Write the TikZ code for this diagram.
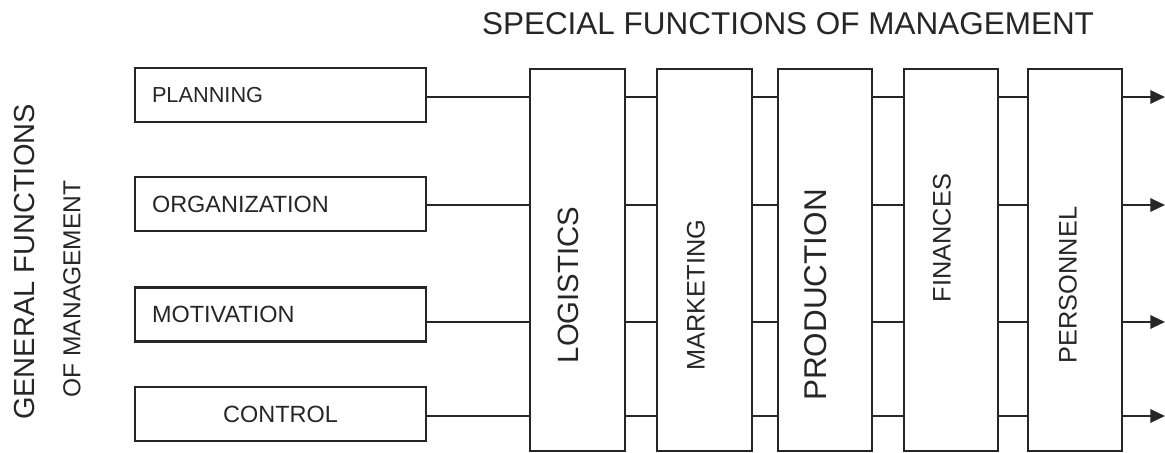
\documentclass[tikz,border=0pt]{standalone}
\usepackage{fontspec}
\setmainfont{Liberation Sans}
\usetikzlibrary{arrows.meta}
\definecolor{DiagInk}{HTML}{262626}

\begin{document}
\begin{tikzpicture}[x=0.75pt, y=-0.75pt,
    gbox/.style={draw=DiagInk, line width=1.6pt, minimum width=218.25pt, minimum height=40.5pt, inner xsep=12.75pt, text width=192.75pt, align=left, text=DiagInk, font=\fontsize{17.6}{18}\selectfont},
    sbox/.style={draw=DiagInk, line width=1.6pt, minimum width=71pt, minimum height=286.5pt, inner sep=0pt},
    vtext/.style={rotate=90, inner sep=0pt, text=DiagInk},
    conn/.style={draw=DiagInk, line width=1.6pt},
    outarrow/.style={conn, -{Triangle[length=11pt, width=10pt]}}
]
\useasboundingbox (0,0) rectangle (1165,453);

% Titles
\node[anchor=base, inner sep=0pt, text=DiagInk, font=\fontsize{23.6}{24}\selectfont] (title) at (788,35) {SPECIAL FUNCTIONS OF MANAGEMENT};
\node[vtext, font=\fontsize{21.75}{22}\selectfont] (gen) at (25,262) {GENERAL FUNCTIONS};
\node[vtext, font=\fontsize{18.4}{19}\selectfont] (ofm) at (72,289) {OF MANAGEMENT};

% General functions (left column)
\node[gbox, font=\fontsize{16.3}{17}\selectfont] (plan) at (280.5,95) {PLANNING};
\node[gbox] (org) at (280.5,204) {ORGANIZATION};
\node[gbox] (mot) at (280.5,314.5) {MOTIVATION};
\node[gbox, align=center] (ctrl) at (280.5,414) {CONTROL};

% Special functions (vertical boxes)
\node[sbox] (log) at (577.5,260) {};
\node[sbox] (mkt) at (704.5,260) {};
\node[sbox] (prod) at (825,260) {};
\node[sbox] (fin) at (951,260) {};
\node[sbox] (pers) at (1075,260) {};

\node[vtext, font=\fontsize{22}{22}\selectfont] (logt) at (568,285) {LOGISTICS};
\node[vtext, font=\fontsize{19}{19}\selectfont] (mktt) at (696,295) {MARKETING};
\node[vtext, font=\fontsize{23.6}{24}\selectfont] (prodt) at (816,295) {PRODUCTION};
\node[vtext, font=\fontsize{19}{19}\selectfont] (fint) at (942,238) {FINANCES};
\node[vtext, font=\fontsize{19}{19}\selectfont] (perst) at (1068,285) {PERSONNEL};

% Rows of connectors
\coordinate (r1) at (1165,97);
\coordinate (r2) at (1165,205);
\coordinate (r3) at (1165,322);
\coordinate (r4) at (1165,416);

\draw[conn] (plan.east |- r1) -- (log.west |- r1) (log.east |- r1) -- (mkt.west |- r1)
    (mkt.east |- r1) -- (prod.west |- r1) (prod.east |- r1) -- (fin.west |- r1) (fin.east |- r1) -- (pers.west |- r1);
\draw[conn] (org.east |- r2) -- (log.west |- r2) (log.east |- r2) -- (mkt.west |- r2)
    (mkt.east |- r2) -- (prod.west |- r2) (prod.east |- r2) -- (fin.west |- r2) (fin.east |- r2) -- (pers.west |- r2);
\draw[conn] (mot.east |- r3) -- (log.west |- r3) (log.east |- r3) -- (mkt.west |- r3)
    (mkt.east |- r3) -- (prod.west |- r3) (prod.east |- r3) -- (fin.west |- r3) (fin.east |- r3) -- (pers.west |- r3);
\draw[conn] (ctrl.east |- r4) -- (log.west |- r4) (log.east |- r4) -- (mkt.west |- r4)
    (mkt.east |- r4) -- (prod.west |- r4) (prod.east |- r4) -- (fin.west |- r4) (fin.east |- r4) -- (pers.west |- r4);

% Outputs
\draw[outarrow] (pers.east |- r1) -- (r1);
\draw[outarrow] (pers.east |- r2) -- (r2);
\draw[outarrow] (pers.east |- r3) -- (r3);
\draw[outarrow] (pers.east |- r4) -- (r4);

\end{tikzpicture}
\end{document}
